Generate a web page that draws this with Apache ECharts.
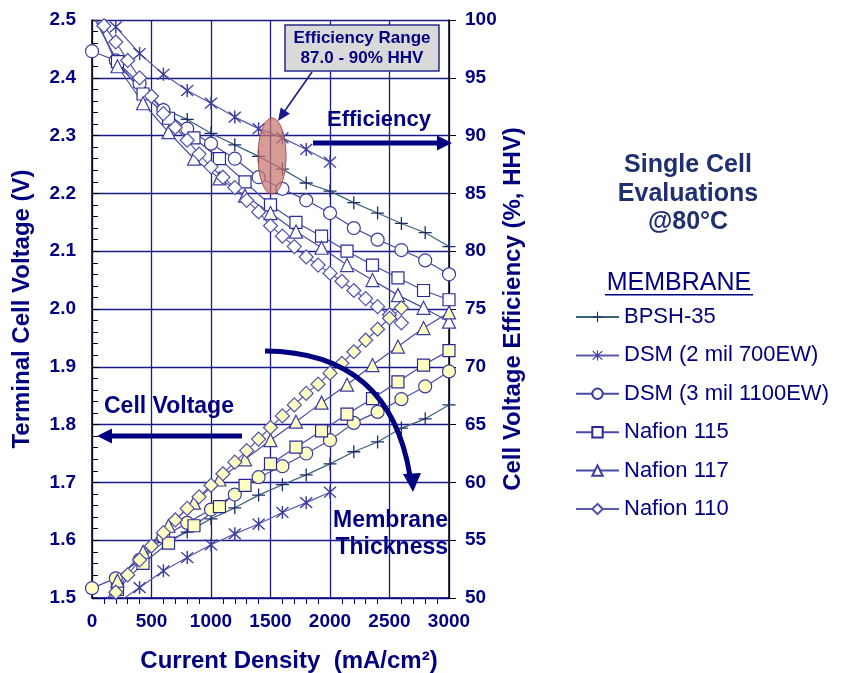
<!DOCTYPE html>
<html><head><meta charset="utf-8">
<script src="https://cdn.jsdelivr.net/npm/echarts@6/dist/echarts.min.js"></script>
<style>html,body{margin:0;padding:0;background:#fff}#c{width:844px;height:673px}</style>
</head><body><div id="c"></div>
<script>
// ---- data ----
const membranes = ['BPSH-35','DSM (2 mil 700EW)','DSM (3 mil 1100EW)','Nafion 115','Nafion 117','Nafion 110'];

const bpshI = [200,400,600,800,1000,1200,1400,1600,1800,2000,2200,2400,2600,2800,3000];
const bpshV = [1.535,1.566,1.596,1.614,1.637,1.656,1.678,1.696,1.713,1.732,1.753,1.770,1.794,1.810,1.834];
const bpshE = [96.3,94.2,92.3,91.4,90.2,89.2,88.2,87.1,85.9,85.2,84.2,83.3,82.4,81.6,80.4];

const dsm2I = [200,400,600,800,1000,1200,1400,1600,1800,2000];
const dsm2V = [1.490,1.518,1.547,1.570,1.592,1.611,1.628,1.648,1.665,1.683];
const dsm2E = [99.4,97.1,95.3,93.9,92.8,91.6,90.6,89.8,88.8,87.7];

const dsm3I = [0,200,400,600,800,1000,1200,1400,1600,1800,2000,2200,2400,2600,2800,3000];
const dsm3V = [1.517,1.534,1.566,1.606,1.630,1.653,1.679,1.709,1.728,1.750,1.773,1.803,1.822,1.844,1.866,1.892];
const dsm3E = [97.3,96.5,94.5,92.2,90.6,89.3,88.0,86.4,85.4,84.4,83.3,82.0,81.0,80.1,79.2,78.0];

const n115I = [0,214,429,643,857,1071,1286,1500,1714,1929,2143,2357,2571,2786,3000];
const n115V = [1.470,1.515,1.560,1.595,1.625,1.658,1.695,1.732,1.761,1.789,1.818,1.845,1.874,1.903,1.928];
const n115E = [100.5,96.4,93.6,91.5,89.8,88.0,86.0,84.0,82.5,81.3,80.0,78.8,77.7,76.6,75.8];

const n117I = [0,214,429,643,857,1071,1286,1500,1714,1929,2143,2357,2571,2786,3000];
const n117V = [1.450,1.530,1.580,1.625,1.665,1.705,1.740,1.773,1.805,1.838,1.869,1.903,1.935,1.967,1.994];
const n117E = [101.0,96.0,92.8,90.3,88.0,86.3,84.8,83.3,81.7,80.3,78.8,77.5,76.2,75.1,73.9];

const n110I = [100,200,300,400,500,600,700,800,900,1000,1100,1200,1300,1400,1500,1600,1700,1800,1900,2000,2100,2200,2300,2400,2500,2600];
const n110V = [1.475,1.510,1.540,1.566,1.590,1.613,1.635,1.655,1.675,1.695,1.715,1.735,1.755,1.775,1.795,1.815,1.834,1.854,1.870,1.889,1.906,1.926,1.946,1.965,1.984,2.002];
const n110E = [99.5,98.1,96.5,95.0,93.4,91.9,90.7,89.6,88.4,87.3,86.4,85.5,84.4,83.4,82.2,81.3,80.4,79.5,78.8,78.1,77.4,76.6,75.9,75.2,74.5,73.8];

const xTicks = [0,500,1000,1500,2000,2500,3000];

// ---- styling ----
const NAVY = '#000080';
const FONT = '"Liberation Sans", Arial, sans-serif';
const PLUS = 'path://M5.4,0L6.6,0L6.6,5.4L12,5.4L12,6.6L6.6,6.6L6.6,12L5.4,12L5.4,6.6L0,6.6L0,5.4L5.4,5.4Z';
const STAR = 'path://M5.4,0L6.6,0L6.6,12L5.4,12Z M1.42,0.58L11.42,10.58L10.58,11.42L0.58,1.42Z M10.58,0.58L11.42,1.42L1.42,11.42L0.58,10.58Z';

const specs = [
  {name: membranes[0], I: bpshI, V: bpshV, E: bpshE, symbol: PLUS, size: 13, line: '#3a6478', mark: '#1c2c66', filled: false},
  {name: membranes[1], I: dsm2I, V: dsm2V, E: dsm2E, symbol: STAR, size: 13, line: '#5a5aaa', mark: '#3c3ca0', filled: false},
  {name: membranes[2], I: dsm3I, V: dsm3V, E: dsm3E, symbol: 'circle', size: 13, line: '#4a4aa6', mark: '#3c3ca0', filled: true},
  {name: membranes[3], I: n115I, V: n115V, E: n115E, symbol: 'rect', size: 12, line: '#4a4aa6', mark: '#2a2a96', filled: true},
  {name: membranes[4], I: n117I, V: n117V, E: n117E, symbol: 'triangle', size: 13, line: '#4a4aa6', mark: '#3c3ca0', filled: true},
  {name: membranes[5], I: n110I, V: n110V, E: n110E, symbol: 'diamond', size: 14, line: '#5a5ab0', mark: '#5050aa', filled: true}
];

const series = [];
specs.forEach(s => {
  // efficiency curve (right axis, white markers)
  series.push({
    name: s.name, type: 'line', xAxisIndex: 0, yAxisIndex: 1,
    data: s.I.map((x, i) => [x, s.E[i]]),
    symbol: s.symbol, symbolSize: s.size, showAllSymbol: true, clip: true,
    lineStyle: {color: s.line, width: 1.2},
    itemStyle: s.filled ? {color: '#ffffff', borderColor: s.mark, borderWidth: 1.2}
                        : {color: s.mark, borderWidth: 0},
    emphasis: {disabled: true}, z: 3
  });
  // voltage curve (left axis, yellow markers)
  series.push({
    name: s.name, type: 'line', xAxisIndex: 0, yAxisIndex: 0,
    data: s.I.map((x, i) => [x, s.V[i]]),
    symbol: s.symbol, symbolSize: s.size, showAllSymbol: true, clip: true,
    lineStyle: {color: s.line, width: 1.2},
    itemStyle: s.filled ? {color: '#ffffc4', borderColor: s.mark, borderWidth: 1.2}
                        : {color: s.mark, borderWidth: 0},
    emphasis: {disabled: true}, z: 3
  });
});

const chart = echarts.init(document.getElementById('c'), null, {renderer: 'canvas'});
chart.setOption({
  animation: false,
  backgroundColor: '#ffffff',
  grid: {left: 92, right: 395, top: 20, bottom: 75, containLabel: false},
  legend: {
    data: membranes, orient: 'vertical', left: 575, top: 304, padding: 0,
    itemWidth: 43, itemHeight: 13, itemGap: 12.4,
    selectedMode: false,
    textStyle: {fontFamily: FONT, fontSize: 22, color: NAVY, lineHeight: 26}
  },
  xAxis: {
    type: 'value', min: 0, max: 3000, interval: 500,
    axisLine: {show: true, lineStyle: {color: NAVY, width: 1.5}},
    axisTick: {show: false},
    minorTick: {show: true, splitNumber: 5, length: 6, lineStyle: {color: NAVY, width: 1}},
    axisLabel: {margin: 14, fontFamily: FONT, fontSize: 19, fontWeight: 'bold', color: NAVY,
      formatter: v => xTicks.includes(v) ? String(v) : ''},
    splitLine: {show: true, lineStyle: {color: '#1a1a8c', width: 1.3}}
  },
  yAxis: [
    {
      type: 'value', min: 1.5, max: 2.5, interval: 0.1, position: 'left',
      name: 'Terminal Cell Voltage (V)', nameLocation: 'middle', nameRotate: 90, nameGap: 58,
      nameTextStyle: {fontFamily: FONT, fontSize: 24, fontWeight: 'bold', color: NAVY},
      axisLine: {show: true, lineStyle: {color: '#000', width: 1.5}},
      axisTick: {show: true, inside: true, length: 7, lineStyle: {color: '#000'}},
      minorTick: {show: true, splitNumber: 5, length: 6, lineStyle: {color: '#000', width: 1}},
      axisLabel: {margin: 16, fontFamily: FONT, fontSize: 19, fontWeight: 'bold', color: NAVY,
        formatter: v => v.toFixed(1)},
      splitLine: {show: true, lineStyle: {color: '#1a1a8c', width: 1.3}}
    },
    {
      type: 'value', min: 50, max: 100, interval: 5, position: 'right',
      name: 'Cell Voltage Efficiency (%, HHV)', nameLocation: 'middle', nameRotate: 90, nameGap: 52,
      nameTextStyle: {fontFamily: FONT, fontSize: 24, fontWeight: 'bold', color: NAVY},
      axisLine: {show: true, lineStyle: {color: '#000', width: 1.5}},
      axisTick: {show: true, inside: false, length: 7, lineStyle: {color: '#000'}},
      axisLabel: {margin: 16, fontFamily: FONT, fontSize: 19, fontWeight: 'bold', color: NAVY},
      splitLine: {show: false}
    }
  ],
  series: series,
  graphic: [
    // x axis title
    {type: 'text', x: 289, y: 661, z: 10, style: {text: 'Current Density  (mA/cm²)', font: 'bold 24px ' + FONT, fill: NAVY, align: 'center', verticalAlign: 'middle'}},
    // efficiency range box
    {type: 'rect', z: 10, shape: {x: 285, y: 25, width: 154, height: 46}, style: {fill: '#d9d9d9', stroke: '#2a2a8a', lineWidth: 1.5}},
    {type: 'text', z: 11, x: 362, y: 38, style: {text: 'Efficiency Range', font: 'bold 17px ' + FONT, fill: NAVY, align: 'center', verticalAlign: 'middle'}},
    {type: 'text', z: 11, x: 362, y: 58, style: {text: '87.0 - 90% HHV', font: 'bold 17px ' + FONT, fill: NAVY, align: 'center', verticalAlign: 'middle'}},
    {type: 'line', z: 10, shape: {x1: 312, y1: 72, x2: 284, y2: 112}, style: {stroke: '#1a1a8a', lineWidth: 1.6}},
    {type: 'polygon', z: 10, shape: {points: [[278, 121], [280.7, 107.4], [289.9, 113.8]]}, style: {fill: '#1a1a8a'}},
    // efficiency ellipse
    {type: 'ellipse', z: 9, shape: {cx: 272, cy: 156, rx: 14, ry: 38}, style: {fill: 'rgba(200,118,108,0.72)', stroke: '#9c5050', lineWidth: 1}},
    // Efficiency label + arrow
    {type: 'text', z: 10, x: 327, y: 120, style: {text: 'Efficiency', font: 'bold 22px ' + FONT, fill: NAVY, align: 'left', verticalAlign: 'middle'}},
    {type: 'rect', z: 10, shape: {x: 313, y: 140.5, width: 127, height: 5}, style: {fill: NAVY}},
    {type: 'polygon', z: 10, shape: {points: [[437, 135.5], [452, 143], [437, 150.5]]}, style: {fill: NAVY}},
    // Cell Voltage label + arrow
    {type: 'text', z: 10, x: 104, y: 407, style: {text: 'Cell Voltage', font: 'bold 23px ' + FONT, fill: NAVY, align: 'left', verticalAlign: 'middle'}},
    {type: 'rect', z: 10, shape: {x: 110, y: 433.5, width: 132, height: 5}, style: {fill: NAVY}},
    {type: 'polygon', z: 10, shape: {points: [[112, 428.5], [97, 436], [112, 443.5]]}, style: {fill: NAVY}},
    // membrane thickness curved arrow
    {type: 'bezierCurve', z: 10, shape: {x1: 265, y1: 351, cpx1: 390, cpy1: 352, x2: 410, y2: 476}, style: {stroke: NAVY, lineWidth: 5, fill: null}},
    {type: 'polygon', z: 10, shape: {points: [[403, 474], [413, 492], [421, 473]]}, style: {fill: NAVY}},
    {type: 'text', z: 10, x: 448, y: 521, style: {text: 'Membrane', font: 'bold 23px ' + FONT, fill: NAVY, align: 'right', verticalAlign: 'middle'}},
    {type: 'text', z: 10, x: 448, y: 548, style: {text: 'Thickness', font: 'bold 23px ' + FONT, fill: NAVY, align: 'right', verticalAlign: 'middle'}},
    // right side title
    {type: 'text', z: 10, x: 688, y: 165, style: {text: 'Single Cell', font: 'bold 25px ' + FONT, fill: '#1f2f6f', align: 'center', verticalAlign: 'middle'}},
    {type: 'text', z: 10, x: 688, y: 194, style: {text: 'Evaluations', font: 'bold 25px ' + FONT, fill: '#1f2f6f', align: 'center', verticalAlign: 'middle'}},
    {type: 'text', z: 10, x: 688, y: 222, style: {text: '@80°C', font: 'bold 25px ' + FONT, fill: '#1f2f6f', align: 'center', verticalAlign: 'middle'}},
    {type: 'text', z: 10, x: 679, y: 283, style: {text: 'MEMBRANE', font: '25px ' + FONT, fill: NAVY, align: 'center', verticalAlign: 'middle'}},
    {type: 'rect', z: 10, shape: {x: 605, y: 294, width: 148, height: 1.6}, style: {fill: NAVY}}
  ]
});
</script>
</body></html>
